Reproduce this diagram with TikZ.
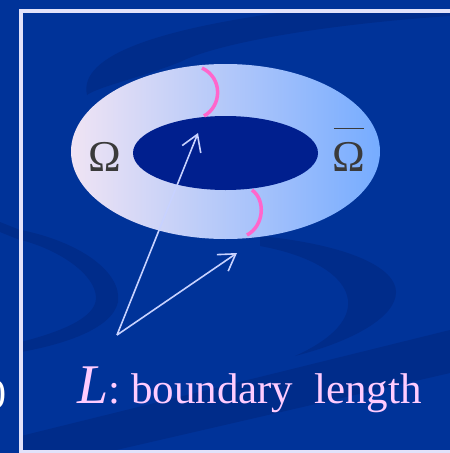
\documentclass[tikz,border=0pt]{standalone}
\usepackage{fontspec}
\setmainfont{Liberation Serif}
\usepackage{xcolor}
\usetikzlibrary{arrows.meta}

\definecolor{slide}{RGB}{0,51,153}
\definecolor{swirl}{RGB}{0,44,138}
\definecolor{hole}{RGB}{0,31,142}
\definecolor{frameline}{RGB}{226,226,250}
\definecolor{ringleft}{RGB}{240,228,244}
\definecolor{ringmid}{RGB}{180,208,240}
\definecolor{ringright}{RGB}{118,172,255}
\definecolor{cut}{RGB}{255,102,204}
\definecolor{pointerblue}{RGB}{200,210,255}
\definecolor{captionpink}{RGB}{255,204,255}
\definecolor{omegagray}{RGB}{58,58,58}

\begin{document}
\begin{tikzpicture}[x=1pt, y=-1pt, >={Straight Barb[length=16pt,width=20pt]},
  framebox/.style={draw=frameline, line width=4pt},
  cutline/.style={draw=cut, line width=3.5pt},
  pointer/.style={->, draw=pointerblue, line width=1.6pt},
  omegalabel/.style={text=omegagray, font=\fontsize{44}{44}\selectfont, inner sep=0pt, anchor=base},
  captiontext/.style={text=captionpink, font=\fontsize{43}{48}\selectfont, inner sep=0pt, anchor=base west}]
  \useasboundingbox (0,0) rectangle (450,453);
  \fill[slide] (0,0) rectangle (450,453);

  % left edge of the slide
  \fill[swirl] (0,222) .. controls (10,226) .. (20,230) -- (20,240) .. controls (10,236) .. (0,232) -- cycle;
  \node[text=white, font=\fontsize{42}{48}\selectfont, inner sep=0pt, anchor=base east] (cutoff) at (7,408) {0};

  % background swirls inside the frame
  \begin{scope}
    \clip (21,10.5) rectangle (450,452);
    \fill[swirl] (87,95) .. controls (78,55) and (160,28) .. (300,10) -- (450,10) -- (450,16)
      .. controls (330,24) and (220,42) .. (180,62) .. controls (140,78) and (100,86) .. (87,95) -- cycle;
    \fill[swirl] (21,230) .. controls (80,242) and (122,272) .. (118,302) .. controls (112,330) and (60,345) .. (21,352)
      -- (21,342) .. controls (60,332) and (96,318) .. (96,298) .. controls (96,275) and (60,250) .. (21,240) -- cycle;
    \fill[swirl] (260,236) .. controls (350,245) and (396,268) .. (396,292) .. controls (396,318) and (350,342) .. (295,356)
      .. controls (335,338) and (350,318) .. (348,300) .. controls (345,275) and (310,255) .. (260,246) -- cycle;
    \fill[swirl] (21,436) -- (450,330) -- (450,373) -- (21,472) -- cycle;
  \end{scope}
  \draw[framebox] (21,10.5) rectangle (470,451.5);

  % ring
  \shade[left color=ringleft, middle color=ringmid, right color=ringright] (225.5,151.5) ellipse [x radius=154.5, y radius=87.5];
  \fill[hole] (225.5,153) ellipse [x radius=92.5, y radius=37];
  \draw[cutline] (202,68) .. controls (223,78) and (222,106) .. (204,116);
  \draw[cutline] (252,190) .. controls (266,200) and (264,226) .. (247,235);

  \node[omegalabel] (omegaL) at (105,171) {Ω};
  \node[omegalabel] (omegaR) at (349,171) {Ω};
  \draw[omegagray, line width=1.5pt] ([xshift=1.5pt, yshift=13pt]omegaR.north west) -- ([xshift=-1.5pt, yshift=13pt]omegaR.north east);

  % pointers to the boundary
  \coordinate (apex) at (117,335);
  \coordinate (inner) at (198,133);
  \coordinate (outer) at (237,253);
  \draw[pointer] (apex) -- (inner);
  \draw[pointer] (apex) -- (outer);

  \node[captiontext] (caption) at (77,403) {{\fontsize{56}{56}\selectfont\itshape L}: boundary\hspace{10pt} length};
\end{tikzpicture}
\end{document}
